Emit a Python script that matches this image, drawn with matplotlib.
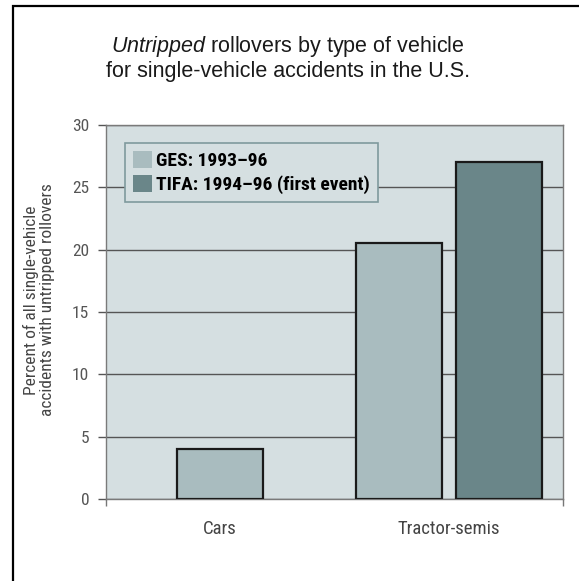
import matplotlib
matplotlib.use("Agg")
import matplotlib.pyplot as plt
from matplotlib import font_manager
from matplotlib.patches import Rectangle, Patch

# --- data -------------------------------------------------------------
categories = ["Cars", "Tractor-semis"]
series_names = ["GES: 1993\u201396", "TIFA: 1994\u201396 (first event)"]
ges_values = [4.0, 20.5]
tifa_values = [None, 27.0]
y_ticks = [0, 5, 10, 15, 20, 25, 30]

# --- fonts ------------------------------------------------------------
def pick(*names):
    for n in names:
        try:
            font_manager.findfont(n, fallback_to_default=False)
            return n
        except Exception:
            pass
    return "DejaVu Sans"

narrow = pick("Liberation Sans Narrow", "Roboto Condensed", "Liberation Sans")
regular = pick("Liberation Sans", "Arial", "DejaVu Sans")

plt.rcParams["font.family"] = [regular, "DejaVu Sans"]
plt.rcParams["mathtext.fontset"] = "custom"
plt.rcParams["mathtext.it"] = regular + ":italic"
plt.rcParams["mathtext.rm"] = regular

W, H = 579, 581
fig = plt.figure(figsize=(W / 100, H / 100), dpi=100)
fig.patch.set_facecolor("white")

# outer frame
fig.patches.append(Rectangle((13 / W, -0.05), 1.2, 1 - 6 / H + 0.05,
                             transform=fig.transFigure, fill=False,
                             edgecolor="black", linewidth=1.6, zorder=0))

ax = fig.add_axes([106 / W, 1 - 499 / H, (563 - 106) / W, (499 - 125) / H])
bg = "#d5dfe1"
ax.set_facecolor(bg)

ges_color = "#a9bcbf"
tifa_color = "#6a8689"
bar_w = 0.375
gap = 0.062

for i, (g, t) in enumerate(zip(ges_values, tifa_values)):
    if t is None:
        pos = [(i, g, ges_color)]
    else:
        off = bar_w / 2 + gap / 2
        pos = [(i - off, g, ges_color), (i + off, t, tifa_color)]
    for x, v, c in pos:
        ax.bar(x, v, width=bar_w, color=c, edgecolor="#1a1a1a",
               linewidth=1.6, zorder=3)

ax.set_xlim(-0.5, 1.5)
ax.set_ylim(0, 30)
ax.set_yticks(y_ticks)
ax.set_yticklabels([str(v) for v in y_ticks], fontfamily=narrow,
                   fontsize=12.5, color="#555555")
ax.set_xticks([0, 1])
ax.set_xticklabels(categories, fontfamily=narrow, fontsize=13.5,
                   color="#444444")
ax.tick_params(axis="x", length=0, pad=15)
ax.tick_params(axis="y", length=6, width=1, color="#555555", pad=6)
ax.set_xticks([-0.5, 1.5], minor=True)
ax.tick_params(axis="x", which="minor", length=5, width=1, color="#777777")

ax.yaxis.grid(True, color="#555555", linewidth=1.0, zorder=1)
ax.set_axisbelow(True)
for s in ax.spines.values():
    s.set_color("#7a7a7a")
    s.set_linewidth(1.0)

fig.text(39 / W, 1 - 300 / H,
         "Percent of all single-vehicle\naccidents with untripped rollovers",
         rotation=90, ha="center", va="center", fontfamily=narrow,
         fontsize=12.5, color="#444444", linespacing=1.1)

fig.text(0.497, 1 - 58 / H,
         "$Untripped$ rollovers by type of vehicle\n"
         "for single-vehicle accidents in the U.S.",
         ha="center", va="center", fontsize=15.5, color="#1a1a1a",
         linespacing=1.1)

handles = [Patch(facecolor=ges_color, edgecolor="none"),
           Patch(facecolor=tifa_color, edgecolor="none")]
leg = ax.legend(handles, series_names, loc="upper left",
                bbox_to_anchor=(19 / 457, 1 - 18 / 374),
                prop={"family": narrow, "weight": "bold", "size": 14},
                frameon=True, fancybox=False, framealpha=1,
                facecolor=bg, edgecolor="#7f9a9d",
                handlelength=0.95, handleheight=0.95, handletextpad=0.25,
                labelspacing=0.25, borderpad=0.42, borderaxespad=0)
leg.get_frame().set_linewidth(1.2)
leg.set_zorder(5)

fig.savefig("out.png", dpi=100)
